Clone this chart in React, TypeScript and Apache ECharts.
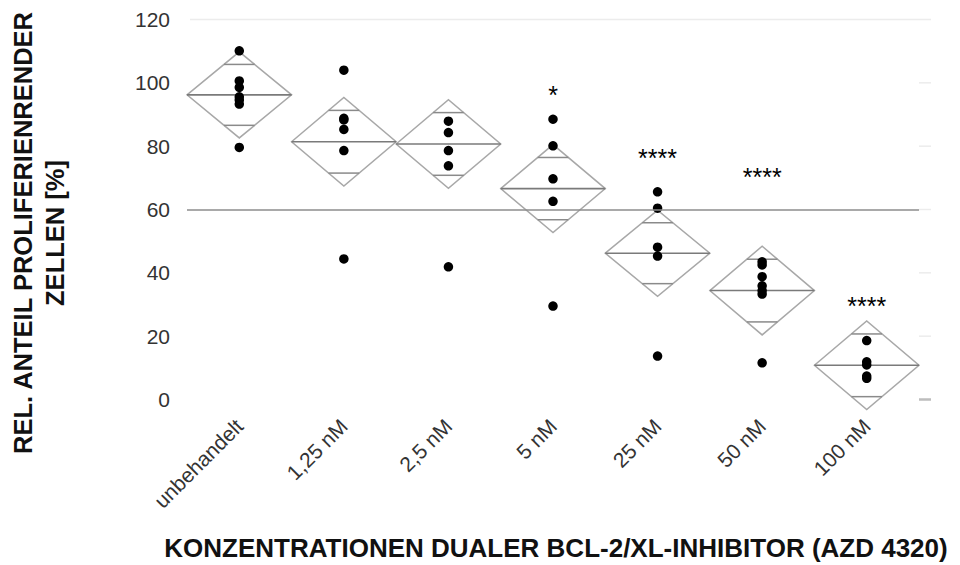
import React, { useEffect, useRef } from "react";
import * as echarts from "echarts";

const categories = ["unbehandelt", "1,25 nM", "2,5 nM", "5 nM", "25 nM", "50 nM", "100 nM"];
const dotValues: number[][] = [
  [110.1, 100.6, 98.6, 95.6, 94.6, 93.3, 79.6],
  [104.0, 88.8, 88.3, 85.3, 78.6, 44.4],
  [87.9, 84.3, 78.6, 73.8, 41.9],
  [88.5, 80.1, 69.7, 62.6, 29.5],
  [65.6, 60.4, 48.1, 45.3, 13.7],
  [43.5, 42.5, 38.8, 35.9, 34.4, 33.3, 11.6],
  [18.6, 11.9, 10.9, 7.4, 6.7],
];
const groupMeans = [96.2, 81.4, 80.7, 66.6, 46.2, 34.4, 10.8];
const ciHalfWidths = [13.6, 14.0, 14.0, 13.9, 13.6, 14.0, 14.0];
const starLabels = ["", "", "", "*", "****", "****", "****"];
const starValues: (number | null)[] = [null, null, null, 96.1, 76.2, 70.4, 29.6];
const referenceLine = 60;
const yTicks = [0, 20, 40, 60, 80, 100, 120];

const yTitle = "REL. ANTEIL PROLIFERIENRENDER\nZELLEN [%]";
const xTitle = "KONZENTRATIONEN DUALER BCL-2/XL-INHIBITOR (AZD 4320)";

const FONT = '"Liberation Sans", Arial, Helvetica, sans-serif';

export default function App() {
  const ref = useRef<HTMLDivElement>(null);

  useEffect(() => {
    document.body.style.margin = "0";
    if (!ref.current) return;
    const chart = echarts.init(ref.current, null, { renderer: "svg" });

    const dotData: number[][] = [];
    dotValues.forEach((arr, i) => arr.forEach((v) => dotData.push([i, v])));
    const diamondData = groupMeans.map((m, i) => [i, m, ciHalfWidths[i]]);
    const starData: any[] = [];
    starValues.forEach((v, i) => {
      if (v != null) starData.push({ value: [i, v], name: starLabels[i] });
    });
    const lastIdx = categories.length - 1;

    const option: any = {
      animation: false,
      backgroundColor: "#ffffff",
      grid: { left: 187, right: 41, top: 19.5, height: 380, containLabel: false },
      xAxis: {
        type: "category",
        data: categories,
        boundaryGap: true,
        axisLine: { show: false },
        axisTick: { show: false },
        splitLine: { show: false },
        axisLabel: {
          interval: 0,
          rotate: 45,
          margin: 23,
          fontSize: 21,
          color: "#333",
          fontFamily: FONT,
        },
      },
      yAxis: {
        type: "value",
        min: 0,
        max: 120,
        interval: 20,
        axisLine: { show: false },
        axisTick: { show: false },
        splitLine: { show: false },
        axisLabel: { margin: 17, fontSize: 21, color: "#333", fontFamily: FONT },
      },
      graphic: [
        {
          type: "text",
          x: 39,
          y: 233,
          rotation: Math.PI / 2,
          style: {
            text: yTitle,
            font: `bold 25.5px ${FONT}`,
            fill: "#111",
            align: "center",
            verticalAlign: "middle",
            lineHeight: 32,
          },
        },
        {
          type: "text",
          x: 556,
          y: 548,
          style: {
            text: xTitle,
            font: `bold 26px ${FONT}`,
            fill: "#111",
            align: "center",
            verticalAlign: "middle",
          },
        },
      ],
      series: [
        {
          type: "custom",
          name: "grid marks",
          clip: false,
          silent: true,
          z: 1,
          data: yTicks.map((t) => [lastIdx, t]),
          renderItem: (params: any, api: any) => {
            const v = api.value(1);
            const p = api.coord([lastIdx, v]);
            const bw = api.size([1, 0])[0];
            const right = p[0] + bw / 2;
            if (v === 120) {
              const left = api.coord([0, v])[0] - bw / 2 + 3;
              return {
                type: "line",
                shape: { x1: left, y1: p[1], x2: right + 12, y2: p[1] },
                style: { stroke: "#ececec", lineWidth: 1.5 },
              };
            }
            return {
              type: "line",
              shape: { x1: right, y1: p[1], x2: right + 12, y2: p[1] },
              style: { stroke: v === 0 ? "#bdbdbd" : "#ececec", lineWidth: v === 0 ? 2.5 : 1.5 },
            };
          },
        },
        {
          type: "custom",
          name: "diamonds",
          clip: false,
          silent: true,
          z: 2,
          data: diamondData,
          renderItem: (params: any, api: any) => {
            const idx = api.value(0);
            const mean = api.value(1);
            const half = api.value(2);
            const c = api.coord([idx, mean]);
            const bw = api.size([1, 0])[0];
            const hw = bw / 2;
            const top = api.coord([idx, mean + half]);
            const bot = api.coord([idx, mean - half]);
            const off = half / Math.SQRT2;
            const it = api.coord([idx, mean + off]);
            const ib = api.coord([idx, mean - off]);
            const ihw = hw * (1 - 1 / Math.SQRT2);
            return {
              type: "group",
              children: [
                {
                  type: "polygon",
                  shape: {
                    points: [
                      [c[0] - hw, c[1]],
                      [c[0], top[1]],
                      [c[0] + hw, c[1]],
                      [c[0], bot[1]],
                    ],
                  },
                  style: { fill: "none", stroke: "#a8a8a8", lineWidth: 1.5 },
                },
                {
                  type: "line",
                  shape: { x1: c[0] - hw, y1: c[1], x2: c[0] + hw, y2: c[1] },
                  style: { stroke: "#7a7a7a", lineWidth: 1.6 },
                },
                {
                  type: "line",
                  shape: { x1: c[0] - ihw, y1: it[1], x2: c[0] + ihw, y2: it[1] },
                  style: { stroke: "#8a8a8a", lineWidth: 1.5 },
                },
                {
                  type: "line",
                  shape: { x1: c[0] - ihw, y1: ib[1], x2: c[0] + ihw, y2: ib[1] },
                  style: { stroke: "#8a8a8a", lineWidth: 1.5 },
                },
              ],
            };
          },
        },
        {
          type: "scatter",
          name: "Werte",
          z: 3,
          symbol: "circle",
          symbolSize: 9.5,
          itemStyle: { color: "#000", opacity: 1 },
          data: dotData,
          markLine: {
            silent: true,
            symbol: "none",
            label: { show: false },
            lineStyle: { color: "#8c8c8c", width: 1.6, type: "solid", opacity: 1 },
            data: [{ yAxis: referenceLine }],
          },
        },
        {
          type: "custom",
          name: "Signifikanz",
          clip: false,
          silent: true,
          z: 4,
          data: starData,
          renderItem: (params: any, api: any) => {
            const p = api.coord([api.value(0), api.value(1)]);
            return {
              type: "text",
              x: p[0],
              y: p[1],
              style: {
                text: starLabels[api.value(0)],
                font: `25px ${FONT}`,
                fill: "#000",
                align: "center",
                verticalAlign: "middle",
              },
            };
          },
        },
      ],
    };

    chart.setOption(option);
    return () => chart.dispose();
  }, []);

  return <div ref={ref} style={{ width: 960, height: 565 }} />;
}
